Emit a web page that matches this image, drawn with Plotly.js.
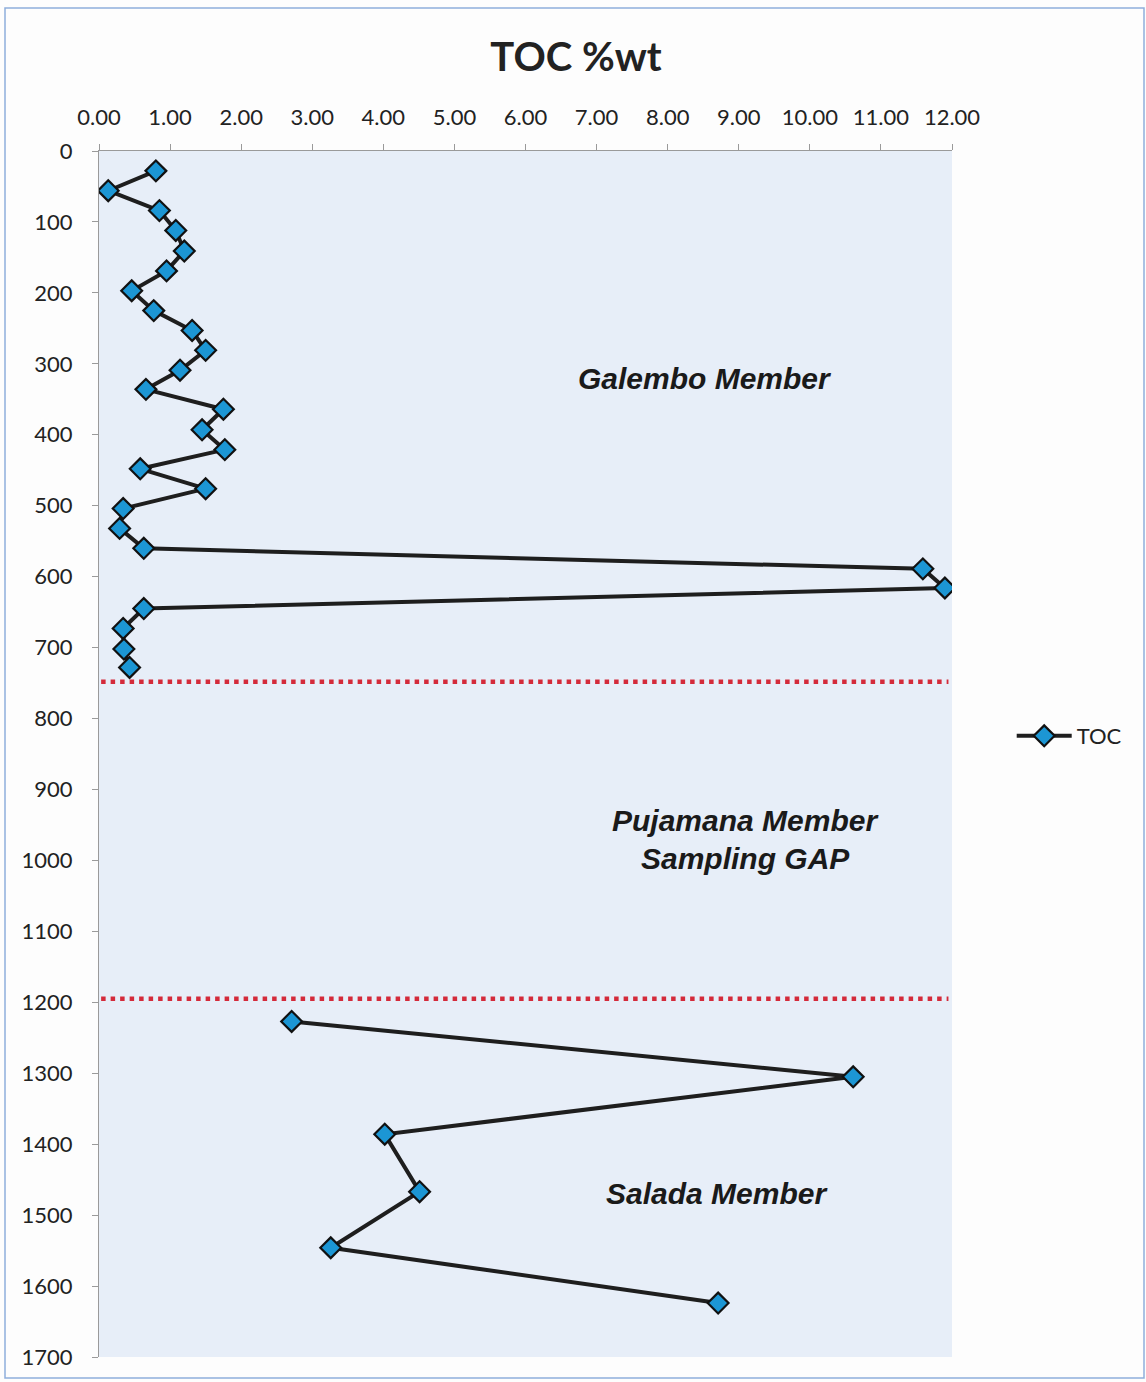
<!DOCTYPE html>
<html>
<head>
<meta charset="utf-8">
<script src="https://cdn.plot.ly/plotly-3.0.1.min.js"></script>
<style>
html,body{margin:0;padding:0;background:#fdfdfd;}
#chart{width:1146px;height:1382px;}
</style>
</head>
<body>
<div id="chart"></div>
<script>
// Depth (m) and TOC (%wt)
const galemboDepth = [28, 56, 84, 112, 141, 169, 197, 225, 253, 281, 309, 336, 364, 393, 421, 448, 476, 504, 532, 560, 589, 616, 645, 673, 702, 728];
const galemboTOC   = [0.80, 0.13, 0.85, 1.08, 1.20, 0.95, 0.46, 0.77, 1.31, 1.50, 1.14, 0.66, 1.75, 1.45, 1.77, 0.58, 1.50, 0.34, 0.29, 0.63, 11.59, 11.90, 0.63, 0.34, 0.35, 0.43];
const saladaDepth  = [1227, 1305, 1386, 1467, 1546, 1624];
const saladaTOC    = [2.71, 10.61, 4.02, 4.51, 3.26, 8.71];
const boundaryDepths = [748, 1195];
const memberLabels = [
  {text: "Galembo Member", x: 8.52, y: 320},
  {text: "Pujamana Member", x: 9.09, y: 944},
  {text: "Sampling GAP", x: 9.09, y: 998},
  {text: "Salada Member", x: 8.69, y: 1470}
];
const xTickVals = [0,1,2,3,4,5,6,7,8,9,10,11,12];
const yTickVals = [0,100,200,300,400,500,600,700,800,900,1000,1100,1200,1300,1400,1500,1600,1700];

// gap between the two sampled intervals: break the line with null
const allDepth = galemboDepth.concat([null], saladaDepth);
const allTOC = galemboTOC.concat([null], saladaTOC);

const trace = {
  x: allTOC,
  y: allDepth,
  type: 'scatter',
  mode: 'lines+markers',
  name: 'TOC',
  connectgaps: false,
  line: {color: '#1e1e1e', width: 4},
  marker: {symbol: 'diamond', size: 16, color: '#1c96d4', line: {color: '#111', width: 2.2}}
};

const shapes = boundaryDepths.map(d => ({
  type: 'line', xref: 'x', yref: 'y', x0: 0.03, x1: 11.95, y0: d, y1: d,
  line: {color: '#d42a3a', width: 4.5, dash: '4.5px,5px'}
}));
shapes.push({
  type: 'rect', xref: 'paper', yref: 'paper',
  x0: (5-99)/853, x1: (1144-99)/853, y0: 1-(1378-151)/1206, y1: 1-(8-151)/1206,
  line: {color: '#8eaedb', width: 1.5}, fillcolor: 'rgba(0,0,0,0)', layer: 'below'
});

const annotations = memberLabels.map(m => ({
  text: m.text, x: m.x, y: m.y, xref: 'x', yref: 'y', showarrow: false,
  xanchor: 'center', yanchor: 'middle',
  font: {family: 'Liberation Sans, Arial, sans-serif', size: 30, color: '#1a1a1a', weight: 'bold', style: 'italic'}
}));

const tickFont = {family: 'Lato, Open Sans, sans-serif', size: 22, color: '#222'};

const layout = {
  width: 1146, height: 1382,
  margin: {l: 99, r: 194, t: 151, b: 25},
  paper_bgcolor: '#fdfdfd',
  plot_bgcolor: '#e7eef8',
  title: {text: 'TOC %wt', x: (576)/1146, xanchor: 'center', y: 1-57/1382, yanchor: 'middle',
          font: {family: 'Lato, Open Sans, sans-serif', size: 40, color: '#222', weight: 'bold'}},
  xaxis: {
    side: 'top', range: [0, 12], tickvals: xTickVals, tickformat: '.2f',
    showgrid: false, zeroline: false, showline: true, linecolor: '#9a9a9a', linewidth: 1,
    ticks: 'outside', ticklen: 6, tickcolor: '#9a9a9a', tickfont: tickFont, ticklabelstandoff: 10
  },
  yaxis: {
    range: [1700, 0], tickvals: yTickVals,
    showgrid: false, zeroline: false, showline: true, linecolor: '#9a9a9a', linewidth: 1,
    ticks: 'outside', ticklen: 6, tickcolor: '#9a9a9a', tickfont: tickFont, ticklabelstandoff: 15
  },
  showlegend: true,
  legend: {x: 1.07, xanchor: 'left', y: 1-(736-151)/1206, yanchor: 'middle',
           bgcolor: 'rgba(0,0,0,0)', font: {family: 'Lato, Open Sans, sans-serif', size: 22, color: '#222'},
           itemwidth: 55},
  shapes: shapes,
  annotations: annotations
};

Plotly.newPlot('chart', [trace], layout, {displayModeBar: false, staticPlot: true});
</script>
</body>
</html>
